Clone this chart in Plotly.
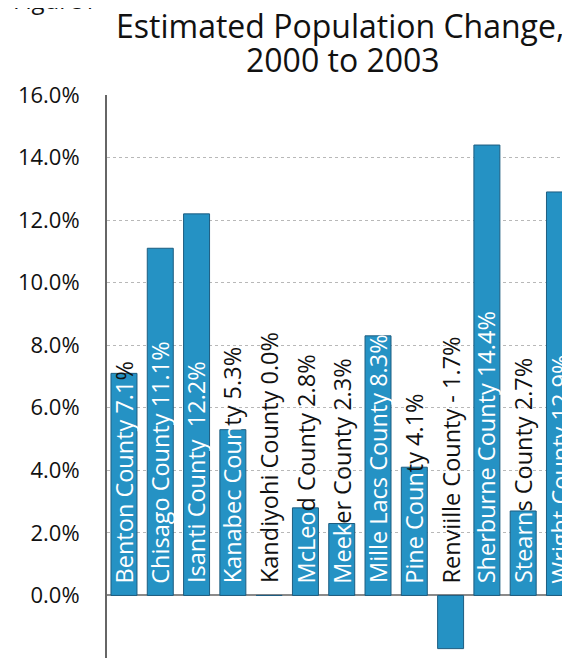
import plotly.graph_objects as go

# ---------------- data ----------------
counties = ["Benton County", "Chisago County", "Isanti County", "Kanabec County",
            "Kandiyohi County", "McLeod County", "Meeker County", "Mille Lacs County",
            "Pine County", "Renviille County", "Sherburne County", "Stearns County",
            "Wright County"]
values = [7.1, 11.1, 12.2, 5.3, 0.0, 2.8, 2.3, 8.3, 4.1, -1.7, 14.4, 2.7, 12.9]
value_text = ["7.1%", "11.1%", " 12.2%", "5.3%", "0.0%", "2.8%", "2.3%", "8.3%",
              "4.1%", "- 1.7%", "14.4%", "2.7%", "12.9%"]
y_ticks = [-2, 0, 2, 4, 6, 8, 10, 12, 14, 16]
title_lines = ["Estimated Population Change,", "2000 to 2003"]
fig_label = "Figure1"

# ---------------- layout constants ----------------
OFF = 8  # page body margin
W, H = 570 - OFF, 668 - 2 * OFF
ML, MR, MT = 99, 0, 87
PH = 563.5
MB = H - MT - PH
PW = W - ML - MR
YMIN, YMAX = -2, 16
PX_PER_UNIT = PH / (YMAX - YMIN)
FONT = "Open Sans"
LABEL_SIZE = 23.5
LABEL_START = 13  # px above baseline where the label text starts

# approximate Open Sans advance widths (em)
OS_W = {' ': .26, '%': .821, '-': .322, '.': .266, ',': .25,
        'a': .556, 'b': .613, 'c': .476, 'd': .613, 'e': .561, 'g': .548, 'h': .614,
        'i': .253, 'l': .253, 'n': .614, 'o': .604, 'r': .408, 's': .477, 't': .353,
        'u': .614, 'y': .501, 'k': .525, 'm': .930, 'v': .501, 'w': .778, 'p': .613,
        'B': .635, 'C': .631, 'K': .580, 'L': .507, 'M': .890, 'P': .602, 'R': .617,
        'S': .539, 'W': .928, 'I': .303}


def cw(ch):
    if ch.isdigit():
        return .572
    return OS_W.get(ch, .56)


def split_index(text, avail_px):
    pos = 0.0
    for i, ch in enumerate(text):
        w = cw(ch) * LABEL_SIZE
        if pos + w * 0.6 > avail_px:
            return i
        pos += w
    return len(text)


def px_to_paper_x(page_px):
    return (page_px - OFF - ML) / PW


def px_to_paper_y(page_py):
    return 1 + (MT - (page_py - OFF)) / PH


fig = go.Figure()
fig.add_trace(go.Bar(
    x=counties, y=values, width=0.716,
    marker=dict(color="#2592c4", line=dict(color="#1d5d80", width=1)),
    hoverinfo="skip", showlegend=False,
))

HIDE = "<span style='color:rgba(0,0,0,0)'>"
annotations = []
for c, v, vt in zip(counties, values, value_text):
    label = f"{c} {vt}"
    avail = v * PX_PER_UNIT - LABEL_START if v > 0 else 0
    k = split_index(label, avail)
    inner, outer = label[:k], label[k:]
    common = dict(x=c, y=0, xref="x", yref="y", textangle=-90, showarrow=False,
                  xanchor="center", yanchor="bottom", yshift=LABEL_START - 3)
    if inner:
        txt = inner + (HIDE + outer + "</span>" if outer else "")
        annotations.append(dict(common, text=txt,
                                font=dict(family=FONT, size=LABEL_SIZE, color="white")))
    if outer:
        txt = (HIDE + inner + "</span>" if inner else "") + outer
        annotations.append(dict(common, text=txt,
                                font=dict(family=FONT, size=LABEL_SIZE, color="#111111")))

# titles
annotations.append(dict(text=title_lines[0], xref="paper", yref="paper",
                        x=px_to_paper_x(340), y=px_to_paper_y(25), xanchor="center",
                        yanchor="middle", showarrow=False,
                        font=dict(family=FONT, size=32, color="#111111")))
annotations.append(dict(text=title_lines[1], xref="paper", yref="paper",
                        x=px_to_paper_x(343), y=px_to_paper_y(59), xanchor="center",
                        yanchor="middle", showarrow=False,
                        font=dict(family=FONT, size=32, color="#111111")))
annotations.append(dict(text=fig_label, xref="paper", yref="paper",
                        x=px_to_paper_x(11), y=px_to_paper_y(18), xanchor="left",
                        yanchor="bottom", showarrow=False,
                        font=dict(family=FONT, size=24, color="#111111")))

fig.update_layout(
    width=W, height=H,
    margin=dict(l=ML, r=MR, t=MT, b=MB, pad=0),
    paper_bgcolor="white", plot_bgcolor="white",
    annotations=annotations,
    xaxis=dict(range=[-0.468, 12.29], showticklabels=False, ticks="",
               showgrid=False, zeroline=False, showline=False, fixedrange=True),
    yaxis=dict(range=[YMIN, YMAX], tickvals=y_ticks,
               ticktext=[f"{t:.1f}%" for t in y_ticks],
               tickfont=dict(family=FONT, size=22, color="#111111"),
               ticklabelstandoff=21,
               showgrid=True, gridcolor="#b8b8b8", griddash="dot", gridwidth=1,
               zeroline=True, zerolinecolor="#8a8a8a", zerolinewidth=1.5,
               showline=True, linecolor="#666666", linewidth=2, ticks=""),
    bargap=0.284,
)

fig.write_html("out.html")
